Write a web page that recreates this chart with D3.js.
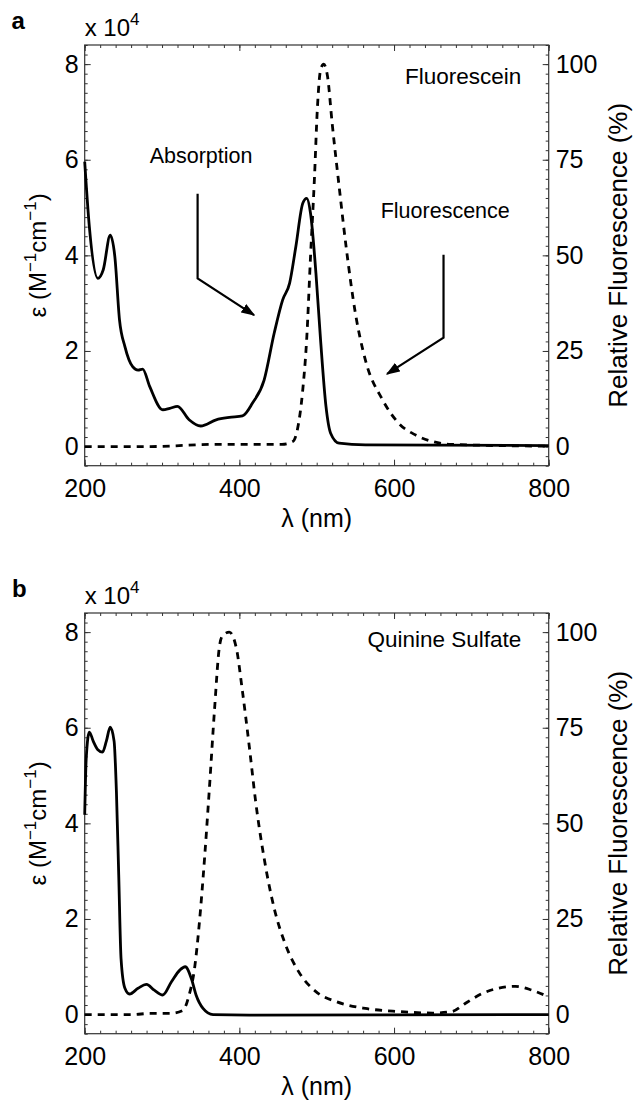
<!DOCTYPE html>
<html>
<head>
<meta charset="utf-8">
<script src="https://cdn.jsdelivr.net/npm/d3@7"></script>
<style>
body { margin: 0; background: #fff; }
text { font-family: "Liberation Sans", Arial, Helvetica, sans-serif; fill: #000; }
</style>
</head>
<body>
<script>
// ---- data ----
// wavelengths in nm, absorption in units of 10^4 M^-1 cm^-1, fluorescence in %
var xTicks = [200, 400, 600, 800];
var leftTicks = [0, 2, 4, 6, 8];
var rightTicks = [0, 25, 50, 75, 100];

// panel a : Fluorescein
var fluoresceinAbsNm = [200, 206, 217, 224, 233, 239, 245, 252, 262, 269, 275, 284, 301, 310, 320, 335, 350, 370, 387, 404, 417, 432, 445, 456, 465, 473, 482, 487, 492, 499, 505, 512, 518, 529, 563, 800];
var fluoresceinAbs = [5.96, 4.60, 3.52, 3.70, 4.42, 3.97, 2.65, 2.09, 1.67, 1.60, 1.62, 1.26, 0.77, 0.80, 0.84, 0.56, 0.43, 0.56, 0.61, 0.64, 0.91, 1.39, 2.37, 3.07, 3.42, 4.18, 5.09, 5.19, 4.88, 3.63, 2.23, 0.84, 0.28, 0.07, 0.035, 0.02];
var fluoresceinFluNm = [200, 285, 370, 455, 469, 475, 482, 487, 492, 497, 501, 505, 509, 514, 520, 529, 538, 550, 563, 585, 606, 628, 650, 671, 800];
var fluoresceinFlu = [0, 0, 0.6, 0.6, 1.3, 4.4, 14.9, 27.9, 49.6, 69.8, 88.9, 98.5, 100, 96.8, 84.5, 68.0, 52.3, 34.9, 22.6, 12.3, 6.1, 3.0, 1.3, 0.6, 0.1];

// panel b : Quinine Sulfate
var quinineAbsNm = [200, 202, 206, 211, 217, 223, 228, 233, 238, 241, 244, 247, 252, 258, 269, 280, 290, 301, 312, 323, 330, 338, 344, 353, 366, 413, 800];
var quinineAbs = [4.18, 5.37, 5.91, 5.72, 5.54, 5.49, 5.72, 6.01, 5.72, 4.67, 2.92, 1.17, 0.55, 0.43, 0.55, 0.63, 0.51, 0.41, 0.68, 0.93, 1.00, 0.75, 0.41, 0.13, 0.0, -0.01, 0.0];
var quinineFluNm = [200, 262, 284, 310, 327, 335, 342, 348, 355, 361, 368, 374, 378, 387, 396, 404, 413, 421, 432, 445, 460, 477, 499, 525, 563, 606, 650, 675, 692, 714, 735, 757, 778, 800];
var quinineFlu = [0, 0, 0.3, 0.3, 1.1, 5.1, 12.0, 23.4, 40.9, 58.4, 80.1, 95.9, 99.0, 100, 95.9, 84.5, 69.8, 55.8, 40.9, 27.8, 18.1, 11.1, 6.0, 3.4, 1.6, 0.8, 0.4, 0.8, 2.9, 5.5, 6.9, 7.4, 6.4, 4.6];

// arrows in panel a (nm, 10^4 units)
var absArrowNm = [346, 346, 419];
var absArrowVal = [5.29, 3.52, 2.75];
var fluArrowNm = [664, 664, 591];
var fluArrowVal = [4.01, 2.28, 1.52];

// ---- drawing ----
var w = 636, h = 1106;
var left = 84.7, right = 548.7, plotH = 420.7;
var frameColor = "#333";

var svg = d3.select("body")
			.append("svg")
			.attr("width", w)
			.attr("height", h);

svg.append("defs").append("marker")
	.attr("id", "arrow")
	.attr("viewBox", "0 0 10 10")
	.attr("preserveAspectRatio", "none")
	.attr("refX", 9).attr("refY", 5)
	.attr("markerWidth", 14).attr("markerHeight", 10)
	.attr("markerUnits", "userSpaceOnUse")
	.attr("orient", "auto")
  .append("path")
	.attr("d", "M0,0L10,5L0,10z")
	.attr("fill", "#000");

var x = d3.scaleLinear().domain([200, 800]).range([left, right]);
var minorX = d3.range(200, 801, 20);
var minorY = d3.range(-0.4, 8.41, 0.2);

function zip(a, b) { return a.map(function(v, i) { return [v, b[i]]; }); }

function drawPanel(top, letter, letterX, name, nameY, abs, flu, extra) {
	var bottom = top + plotH;
	var y = d3.scaleLinear().domain([-0.4, 8.4]).range([bottom, top]);
	var y2 = d3.scaleLinear().domain([-5, 105]).range([bottom, top]);
	var g = svg.append("g");

	// minor ticks
	g.append("g").attr("transform", "translate(0," + bottom + ")")
		.call(d3.axisBottom(x).tickValues(minorX).tickSize(-3).tickFormat(""));
	g.append("g").attr("transform", "translate(0," + top + ")")
		.call(d3.axisTop(x).tickValues(minorX).tickSize(-3).tickFormat(""));
	g.append("g").attr("transform", "translate(" + left + ",0)")
		.call(d3.axisLeft(y).tickValues(minorY).tickSize(-3).tickFormat(""));
	g.append("g").attr("transform", "translate(" + right + ",0)")
		.call(d3.axisRight(y).tickValues(minorY).tickSize(-3).tickFormat(""));

	// major ticks + labels
	g.append("g").attr("transform", "translate(0," + bottom + ")")
		.call(d3.axisBottom(x).tickValues(xTicks).tickSize(-6).tickPadding(14));
	g.append("g").attr("transform", "translate(0," + top + ")")
		.call(d3.axisTop(x).tickValues(xTicks).tickSize(-6).tickFormat(""));
	g.append("g").attr("transform", "translate(" + left + ",0)")
		.call(d3.axisLeft(y).tickValues(leftTicks).tickSize(-6).tickPadding(6));
	g.append("g").attr("transform", "translate(" + right + ",0)")
		.call(d3.axisRight(y2).tickValues(rightTicks).tickSize(-6).tickPadding(7));

	g.selectAll(".domain").remove();
	g.selectAll(".tick line").attr("stroke", frameColor);
	g.selectAll(".tick text")
		.attr("font-family", "Liberation Sans, Arial, sans-serif")
		.attr("font-size", 25);

	// frame
	g.append("rect")
		.attr("x", left).attr("y", top)
		.attr("width", right - left).attr("height", plotH)
		.attr("fill", "none").attr("stroke", frameColor).attr("stroke-width", 1.2);

	var line = d3.line()
		.x(function(d) { return x(d[0]); })
		.y(function(d) { return y(d[1]); })
		.curve(d3.curveMonotoneX);
	var line2 = d3.line()
		.x(function(d) { return x(d[0]); })
		.y(function(d) { return y2(d[1]); })
		.curve(d3.curveMonotoneX);

	// fluorescence (dashed, right axis)
	g.append("path")
		.attr("d", line2(flu))
		.attr("fill", "none").attr("stroke", "#000")
		.attr("stroke-width", 2.8).attr("stroke-dasharray", "7,6");
	// absorption (solid, left axis)
	g.append("path")
		.attr("d", line(abs))
		.attr("fill", "none").attr("stroke", "#000")
		.attr("stroke-width", 2.8).attr("stroke-linejoin", "round");

	// texts
	g.append("text").attr("x", letterX).attr("y", top - 16)
		.attr("font-size", 24).attr("font-weight", "bold").text(letter);
	var mult = g.append("text").attr("x", left).attr("y", top - 9).attr("font-size", 24);
	mult.append("tspan").text("x 10");
	mult.append("tspan").attr("font-size", 17).attr("dy", -11).text("4");

	g.append("text").attr("x", 521.3).attr("y", top + nameY)
		.attr("text-anchor", "end").attr("font-size", 22.5).text(name);

	g.append("text").attr("x", (left + right) / 2).attr("y", bottom + 61)
		.attr("text-anchor", "middle").attr("font-size", 25).text("λ (nm)");

	var cy = (top + bottom) / 2;
	var yl = g.append("text")
		.attr("transform", "translate(46," + cy + ") rotate(-90)")
		.attr("text-anchor", "middle").attr("font-size", 24);
	yl.append("tspan").text("ε (M");
	yl.append("tspan").attr("font-size", 17).attr("dy", -10).text("−1");
	yl.append("tspan").attr("dy", 10).text("cm");
	yl.append("tspan").attr("font-size", 17).attr("dy", -10).text("−1");
	yl.append("tspan").attr("dy", 10).text(")");

	g.append("text")
		.attr("transform", "translate(627," + cy + ") rotate(-90)")
		.attr("text-anchor", "middle").attr("font-size", 26)
		.text("Relative Fluorescence (%)");

	if (extra) extra(g, y, top);
}

drawPanel(45, "a", 11.5, "Fluorescein", 39,
	zip(fluoresceinAbsNm, fluoresceinAbs), zip(fluoresceinFluNm, fluoresceinFlu),
	function(g, y, top) {
		var arrowLine = d3.line()
			.x(function(d) { return x(d[0]); })
			.y(function(d) { return y(d[1]); });
		g.append("path").attr("d", arrowLine(zip(absArrowNm, absArrowVal)))
			.attr("fill", "none").attr("stroke", "#000").attr("stroke-width", 2.2)
			.attr("marker-end", "url(#arrow)");
		g.append("path").attr("d", arrowLine(zip(fluArrowNm, fluArrowVal)))
			.attr("fill", "none").attr("stroke", "#000").attr("stroke-width", 2.2)
			.attr("marker-end", "url(#arrow)");
		g.append("text").attr("x", 149.7).attr("y", top + 118.3)
			.attr("font-size", 21.5).text("Absorption");
		g.append("text").attr("x", 380.7).attr("y", top + 173.3)
			.attr("font-size", 21.5).text("Fluorescence");
	});

drawPanel(613, "b", 12, "Quinine Sulfate", 34.3,
	zip(quinineAbsNm, quinineAbs), zip(quinineFluNm, quinineFlu), null);
</script>
</body>
</html>
